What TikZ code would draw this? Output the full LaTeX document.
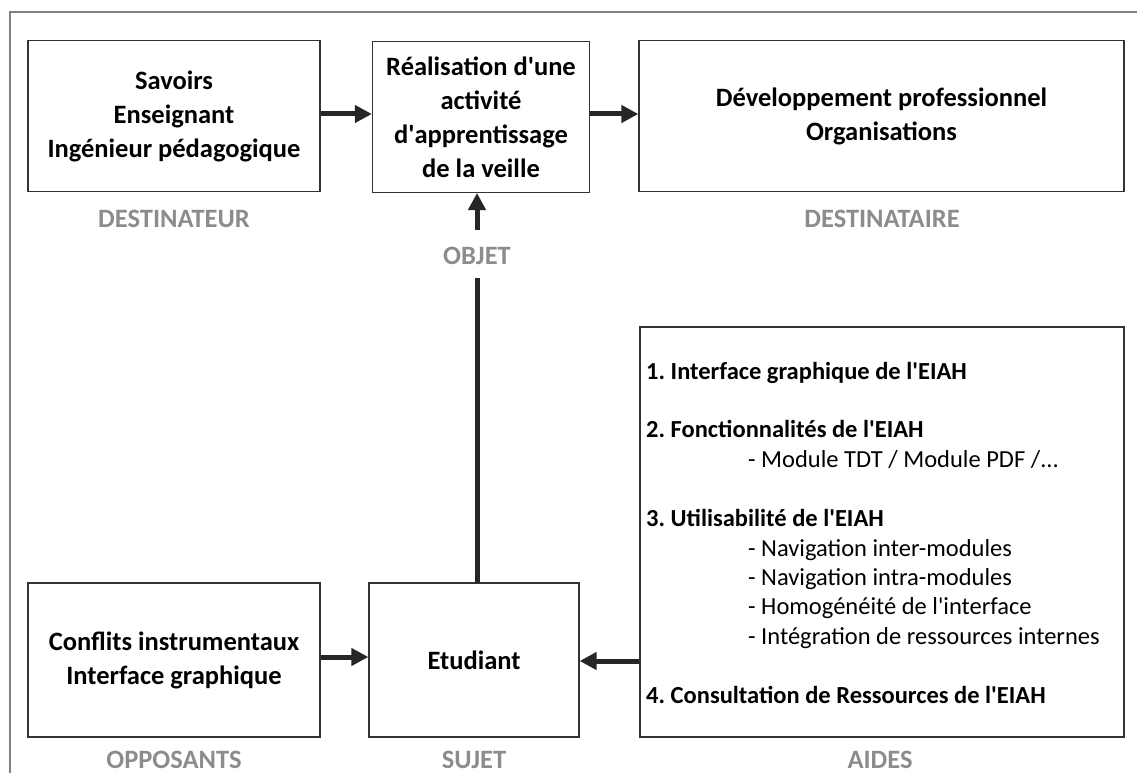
\documentclass[tikz,border=0pt]{standalone}
\usepackage{fontspec}
\setmainfont{Carlito}
\usetikzlibrary{arrows.meta,positioning}
\newcommand{\apos}{\textquotesingle}

\tikzset{
	actant/.style={draw=black!80, line width=1.3pt, align=center, inner sep=0pt,
		font=\bfseries\fontsize{26.5}{34}\selectfont},
	role/.style={text=black!45, font=\bfseries\fontsize{26.5}{30}\selectfont},
	aide/.style={anchor=base west, inner sep=0pt, font=\bfseries\fontsize{24.5}{28}\selectfont},
	sousaide/.style={anchor=base west, inner sep=0pt, font=\fontsize{24.5}{28}\selectfont},
	fleche/.style={line width=5pt, black!85, -{Triangle[length=17pt,width=17pt]}},
}

\begin{document}
\frenchspacing
\begin{tikzpicture}[x=1pt, y=-1pt]
	\useasboundingbox (0,0) rectangle (1137,773);
	\draw[black!50, line width=1.2pt] (10,773) -- (10,12) -- (1137,12);

	% Top row
	\node [actant, minimum width=292pt, minimum height=151pt] (savoirs) at (174,116)
		{Savoirs\\Enseignant\\Ingénieur pédagogique};
	\node [actant, minimum width=217pt, minimum height=151pt] (realisation) at (481,117)
		{Réalisation d\apos une\\activité\\d\apos apprentissage\\de la veille};
	\node [actant, minimum width=485pt, minimum height=151pt] (devpro) at (881.5,116)
		{Développement professionnel\\Organisations};

	\node [role] (destinateur) at (174,219) {DESTINATEUR};
	\node [role] (destinataire) at (882,219) {DESTINATAIRE};
	\node [role] (objet) at (477,256) {OBJET};

	% Bottom row
	\node [actant, minimum width=292pt, minimum height=154pt] (conflits) at (174,660)
		{Conflits instrumentaux\\Interface graphique};
	\node [actant, minimum width=210pt, minimum height=154pt] (etudiant) at (474,660) {Etudiant};
	\node [actant, minimum width=484pt, minimum height=410pt] (aides) at (882,532) {};

	\node [role] (opposants) at (174,760) {OPPOSANTS};
	\node [role] (sujet) at (474,760) {SUJET};
	\node [role] (aidesrole) at (880,760) {AIDES};

	% Contents of the AIDES box
	\node [aide] (a1) at (646,379) {1. Interface graphique de l\apos EIAH};
	\node [aide] (a2) at (646,437) {2. Fonctionnalités de l\apos EIAH};
	\node [sousaide] (a21) at (748,467) {- Module TDT / Module PDF /...};
	\node [aide] (a3) at (646,526) {3. Utilisabilité de l\apos EIAH};
	\node [sousaide] (a31) at (748,556) {- Navigation inter-modules};
	\node [sousaide] (a32) at (748,585) {- Navigation intra-modules};
	\node [sousaide] (a33) at (748,614) {- Homogénéité de l\apos interface};
	\node [sousaide] (a34) at (748,644) {- Intégration de ressources internes};
	\node [aide] (a4) at (646,703) {4. Consultation de Ressources de l\apos EIAH};

	% Arrows
	\coordinate (sujetHaut) at (477,583);
	\coordinate (objetBas) at (477,278);
	\draw [fleche] (savoirs.east |- 0,114) -- (realisation.west |- 0,114);
	\draw [fleche] (realisation.east |- 0,114) -- (devpro.west |- 0,114);
	\draw [fleche] (477,230) -- (477,193);
	\draw [line width=5pt, black!85] (sujetHaut) -- (objetBas);
	\draw [fleche] (conflits.east |- 0,657) -- (etudiant.west |- 0,657);
	\draw [fleche] (aides.west |- 0,661) -- (etudiant.east |- 0,661);
\end{tikzpicture}
\end{document}
